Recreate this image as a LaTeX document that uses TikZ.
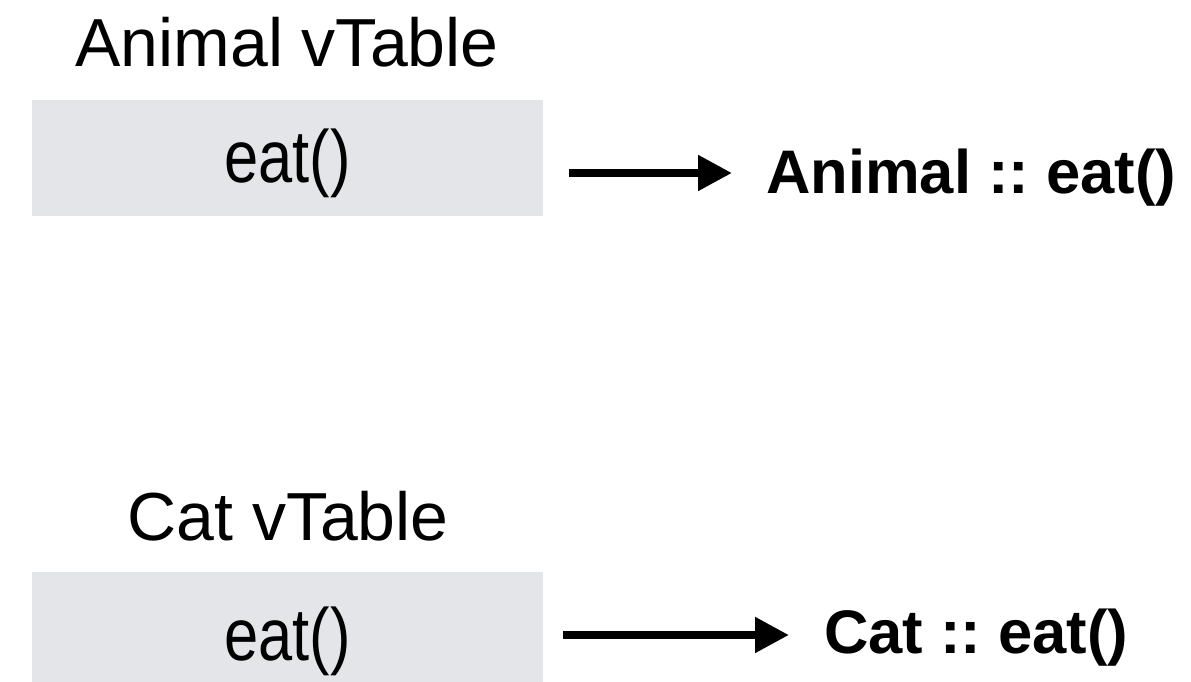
\documentclass[tikz,border=0pt]{standalone}
\usepackage{fontspec}
\setmainfont{Liberation Sans}
\usetikzlibrary{arrows.meta}
\definecolor{slotgray}{RGB}{228,229,233}
\frenchspacing
\begin{document}
\begin{tikzpicture}[x=1pt,y=-1pt,
    title/.style={font=\fontsize{68}{80}\selectfont,inner sep=0pt,anchor=base},
    slot/.style={fill=slotgray,inner sep=0pt,minimum width=511pt,
      font=\fontsize{74}{88}\selectfont},
    impl/.style={font=\fontsize{61.5}{74}\selectfont\bfseries,inner sep=0pt,anchor=base west},
    ptr/.style={line width=8pt,-{Triangle[length=34pt,width=34pt]}}]
  \useasboundingbox (0,0) rectangle (1191,682);
  % Animal
  \node[title] (t1) at (287,67) {Animal vTable};
  \node[slot,text height=82pt,text depth=34pt] (s1) at (287.5,158) {\scalebox{0.83}[1]{eat()}};
  \node[impl] (f1) at (766,193) {Animal :: eat()};
  \draw[ptr] ([xshift=26pt,yshift=20pt]s1.east |- f1.base) -- ([xshift=-34pt,yshift=20pt]f1.base west);
  % Cat
  \node[title] (t2) at (288,540) {Cat vTable};
  \node[slot,text height=88pt,text depth=28pt] (s2) at (287.5,630) {\scalebox{0.83}[1]{eat()}};
  \node[impl] (f2) at (824,653) {Cat :: eat()};
  \draw[ptr] ([xshift=20pt,yshift=18pt]s2.east |- f2.base) -- ([xshift=-35pt,yshift=18pt]f2.base west);
\end{tikzpicture}
\end{document}
